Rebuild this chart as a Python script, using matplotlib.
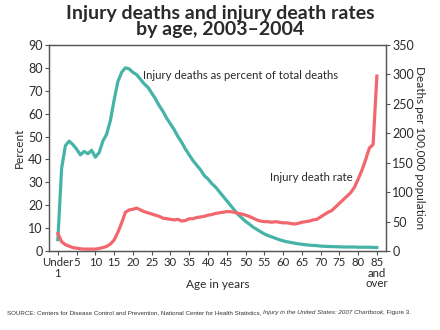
import numpy as np
import matplotlib
matplotlib.use('Agg')
import matplotlib.pyplot as plt

plt.rcParams['font.family'] = ['Lato', 'DejaVu Sans']

# ages 0 (under 1) .. 85 (85 and over)
ages = list(range(0, 86))

# injury deaths as percent of total deaths (left axis)
pct_deaths = [5, 36, 46, 48, 46.5, 44.5, 42, 43.5, 42.5, 44,
              41, 43, 48, 51, 57, 66, 74, 78, 80, 79.5,
              78, 77, 75, 73, 71.5, 69, 66.5, 63.5, 61, 58,
              55.5, 53, 50, 47.5, 44.5, 42, 39.5, 37.5, 35.5, 33,
              31.5, 29.5, 28, 26, 24, 22, 20, 18, 16, 14.5,
              13, 11.8, 10.5, 9.5, 8.5, 7.5, 6.8, 6.2, 5.6, 5,
              4.5, 4.1, 3.8, 3.5, 3.2, 3, 2.8, 2.6, 2.5, 2.4,
              2.2, 2.1, 2, 2, 1.9, 1.9, 1.8, 1.8, 1.8, 1.8,
              1.7, 1.7, 1.7, 1.7, 1.6, 1.6]

# injury death rate per 100,000 (right axis)
death_rate = [30, 16, 11, 8.5, 6, 5, 4, 3.5, 3.5, 3.5,
              3.5, 4.5, 6, 8, 12, 19, 32, 48, 66, 70,
              71, 73, 70, 67, 65, 63, 61, 59, 56, 55,
              54, 53, 54, 51, 52, 55, 55, 57, 58, 59,
              61, 62, 64, 65, 66, 67, 67, 66, 64, 63,
              61, 59, 56, 53, 51, 50, 50, 49, 50, 49,
              48, 48, 47, 46, 47, 49, 50, 51, 53, 54,
              58, 62, 66, 69, 75, 81, 87, 93, 99, 108,
              122, 137, 155, 175, 181, 297]

xticks = list(range(0, 90, 5))
xlabels = ['Under\n1'] + [str(v) for v in range(5, 85, 5)] + ['85\nand\nover']

teal = '#45b3a6'
red = '#f2666d'
grey = '#555555'
txt = '#2a2a2a'

fig = plt.figure(figsize=(4.4, 3.3), dpi=100)
ax = fig.add_axes([0.111, 0.239, 0.766, 0.625])
ax2 = ax.twinx()

ax.plot(ages, pct_deaths, color=teal, lw=2.3, solid_joinstyle='round')
ax2.plot(ages, death_rate, color=red, lw=2.3, solid_joinstyle='round')

ax.set_xlim(-2.4, 87.4)
ax.set_ylim(0, 90)
ax2.set_ylim(0, 350)
ax.set_yticks(range(0, 100, 10))
ax2.set_yticks(range(0, 400, 50))
ax.set_xticks(xticks)
ax.set_xticklabels(xlabels, linespacing=0.95)

for a in (ax, ax2):
    for s in a.spines.values():
        s.set_color(grey)
        s.set_linewidth(0.9)
    a.tick_params(colors=grey, labelcolor=txt, labelsize=9, length=3, width=0.8, pad=1.5)
ax.tick_params(axis='x', labelsize=8.2)

fig.text(0.494, 1 - 284 / 330, 'Age in years', fontsize=8.5, color=txt,
         ha='center', va='center')
ax.set_ylabel('Percent', fontsize=8.5, color=txt, labelpad=2)
ax2.set_ylabel('Deaths per 100,000 population', fontsize=8.5, color=txt,
               rotation=-90, labelpad=8)

ax.text(22.7, 76.6, 'Injury deaths as percent of total deaths', fontsize=8.2,
        color=txt, va='center')
ax.text(56.5, 32.3, 'Injury death rate', fontsize=8.2, color=txt, va='center')

fig.text(0.5, 0.985, 'Injury deaths and injury death rates\nby age, 2003\u20132004',
         ha='center', va='top', fontsize=14, fontweight='bold', color='#2a2a2a',
         linespacing=0.9)

# source line with italic title in the middle
parts = [('SOURCE: Centers for Disease Control and Prevention, National Center for Health Statistics, ', 'normal'),
         ('Injury in the United States: 2007 Chartbook', 'italic'),
         (', Figure 3.', 'normal')]
fig.canvas.draw()
r = fig.canvas.get_renderer()
x = 0.016
for s, st in parts:
    t = fig.text(x, 0.052, s, fontsize=4.5, style=st, color='#333333',
                 family=['Liberation Sans', 'DejaVu Sans'], va='center')
    bb = t.get_window_extent(renderer=r)
    x += bb.width / fig.bbox.width

fig.savefig('out.png', dpi=100, facecolor='white')
